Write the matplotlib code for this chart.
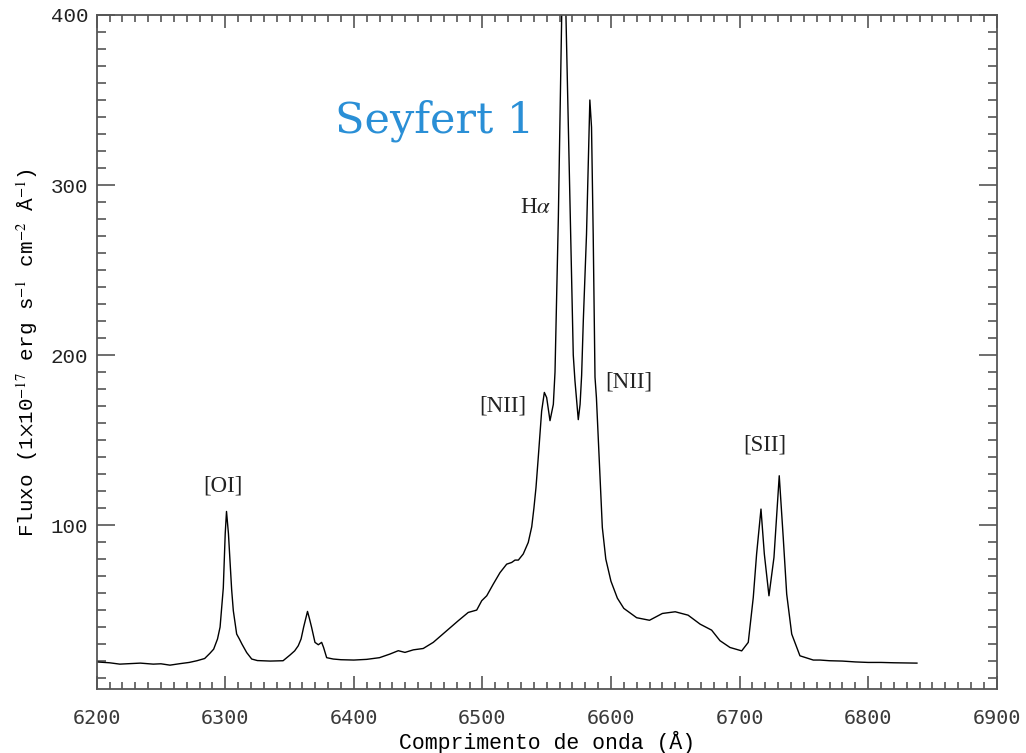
import matplotlib
matplotlib.use("Agg")
import matplotlib.pyplot as plt
from matplotlib.ticker import MultipleLocator

plt.rcParams['mathtext.fontset'] = 'stix'

# spectrum (wavelength in A, flux)
wave = [6200, 6210, 6218, 6226, 6234, 6244, 6250, 6257, 6265, 6272, 6278,
        6284, 6288, 6291, 6294, 6296, 6298.5, 6300, 6301, 6302.5, 6303.7,
        6305, 6306.3, 6308.9, 6311, 6313, 6316.7, 6320.6, 6325, 6335, 6345,
        6350.3, 6354, 6356.8, 6359, 6361, 6364, 6365.5, 6367.2, 6369.8,
        6372.4, 6375, 6376.5, 6378.9, 6384, 6390, 6400, 6410, 6420, 6428,
        6434.6, 6439.8, 6446.3, 6454, 6461.8, 6472.2, 6481.2, 6489, 6495.6,
        6499.5, 6503.4, 6508.5, 6513.7, 6518.9, 6522.8, 6525.4, 6528, 6531.8,
        6535.7, 6538.4, 6540.1, 6541.7, 6543.5, 6546.1, 6548.2, 6550, 6552.6,
        6555.2, 6556.5, 6559.1, 6561.7, 6563.3, 6565, 6568.1, 6570.7, 6572,
        6574.6, 6576, 6577.2, 6578.5, 6581, 6583.6, 6584.9, 6586.2, 6587.6,
        6588.7, 6590.1, 6593.3, 6596, 6600, 6605, 6610, 6620, 6630, 6640,
        6650, 6660, 6669.4, 6675, 6678.3, 6684.8, 6692.6, 6701.7, 6706.8,
        6710.7, 6713.3, 6716.7, 6719.3, 6722.9, 6726.8, 6730.9, 6734, 6736.7,
        6740.6, 6747, 6757.4, 6762.6, 6770, 6780, 6790, 6800, 6810, 6820,
        6830, 6838]
flux = [19.5, 19.0, 18.2, 18.5, 18.8, 18.2, 18.4, 17.6, 18.5, 19.2, 20.2,
        21.5, 24.5, 27, 33, 40, 63, 95, 108, 95, 79,
        62, 49.6, 35.9, 33, 30, 25, 21.2, 20.3, 20, 20.2,
        23.5, 26, 29, 33, 40, 49.2, 45, 39.8, 31,
        29.6, 31, 28, 22, 21.2, 20.8, 20.6, 21, 22, 24.1,
        26.1, 25.1, 26.6, 27.4, 31, 37.8, 43.7, 48.6, 50,
        55.5, 58.4, 65.3, 72, 77, 78, 79.4, 79.4, 83,
        89.8, 99, 110, 122, 140, 167, 178, 175, 161.4,
        171, 190, 281, 400, 470, 400, 291, 200, 185,
        162, 171, 188, 220, 271, 350, 334, 271, 187,
        175, 151.5, 98.6, 80, 67, 57, 51, 45.5, 44, 48,
        49, 47, 41.7, 39.5, 38.2, 32, 28, 26, 31,
        57.4, 83, 109.4, 83, 58.4, 81, 129, 92.7, 59.4,
        35.9, 23.1, 20.6, 20.6, 20.2, 20, 19.5, 19.2, 19.2, 19,
        18.9, 18.8]

line_names = ['[OI]', r'H$\alpha$', '[NII]', '[NII]', '[SII]']
line_x = [6298, 6541, 6516, 6614, 6720]
line_y = [123, 287, 170, 184, 147]

fig = plt.figure(figsize=(10.26, 7.53), dpi=100)
ax = fig.add_axes([0.0942, 0.0846, 0.8772, 0.8955])

ax.plot(wave, flux, color='black', lw=1.0)
ax.set_xlim(6200, 6900)
ax.set_ylim(3.4, 400)

ax.xaxis.set_major_locator(MultipleLocator(100))
ax.xaxis.set_minor_locator(MultipleLocator(10))
ax.yaxis.set_major_locator(MultipleLocator(100))
ax.yaxis.set_minor_locator(MultipleLocator(10))

axcol = '#555555'
for s in ax.spines.values():
    s.set_color(axcol)
    s.set_linewidth(1.3)
ax.tick_params(axis='both', which='both', direction='in', top=True, right=True,
               color=axcol, width=1.2)
ax.tick_params(axis='x', which='major', length=9.5, pad=14, labelsize=14.5,
               labelfontfamily='DejaVu Sans Mono', labelcolor='#3a3a3a')
ax.tick_params(axis='x', which='minor', length=5)
ax.tick_params(axis='y', which='major', length=13, pad=6, labelsize=15,
               labelfontfamily='Liberation Mono', labelcolor='#222222')
ax.tick_params(axis='y', which='minor', length=6.5)

ax.set_xlabel('Comprimento de onda (Å)', fontfamily='Liberation Mono',
              fontsize=15.5, labelpad=2)
ax.set_ylabel(r'Fluxo (1$\times$10$^{-17}$ erg s$^{-1}$ cm$^{-2}$ Å$^{-1}$)',
              fontfamily='Liberation Mono', fontsize=15, labelpad=8)

for name, x, y in zip(line_names, line_x, line_y):
    ax.text(x, y, name, fontfamily='Liberation Serif', fontsize=16.5,
            ha='center', va='center', color='#222222')

ax.text(6463, 338, 'Seyfert 1', fontfamily='DejaVu Serif', fontsize=31,
        ha='center', va='center', color='#2a8fd6')

fig.savefig('out.png', dpi=100)
